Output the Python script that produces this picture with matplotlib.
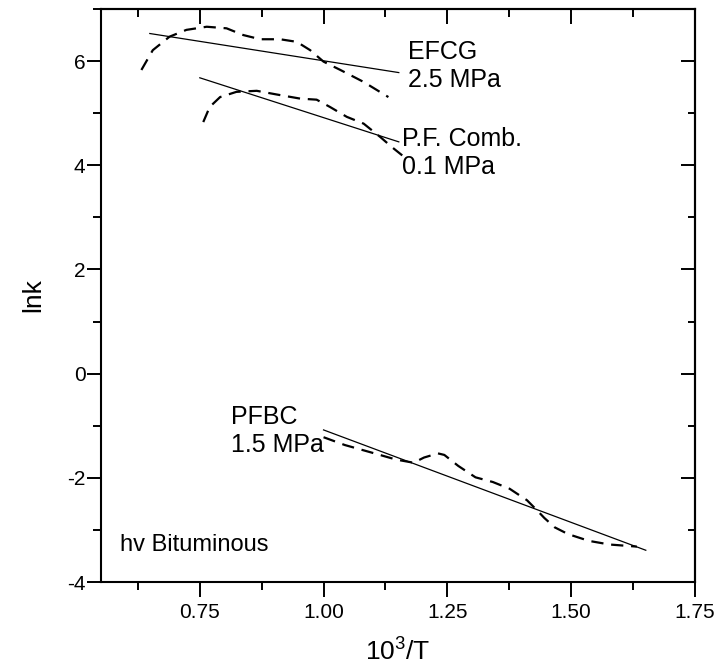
import matplotlib
matplotlib.use("Agg")
import matplotlib.pyplot as plt
from matplotlib.ticker import MultipleLocator

plt.rcParams["font.family"] = ["Liberation Sans", "DejaVu Sans"]
plt.rcParams["mathtext.default"] = "regular"
plt.rcParams["axes.unicode_minus"] = False

# ── data ────────────────────────────────────────────────────────────────────
efcg_x = [0.632, 0.655, 0.689, 0.723, 0.764, 0.804, 0.838, 0.872, 0.912,
          0.946, 0.973, 1.000, 1.034, 1.081, 1.131]
efcg_y = [5.83, 6.21, 6.47, 6.60, 6.66, 6.63, 6.50, 6.42, 6.42,
          6.37, 6.21, 5.99, 5.83, 5.60, 5.31]
efcg_fit_x = [0.649, 1.152]
efcg_fit_y = [6.53, 5.78]

pf_x = [0.757, 0.770, 0.791, 0.824, 0.865, 0.905, 0.953, 0.986, 1.013,
        1.047, 1.081, 1.115, 1.138, 1.159]
pf_y = [4.83, 5.12, 5.31, 5.41, 5.43, 5.36, 5.28, 5.26, 5.12,
        4.93, 4.80, 4.54, 4.35, 4.19]
pf_fit_x = [0.750, 1.152]
pf_fit_y = [5.68, 4.45]

pfbc_x = [1.000, 1.043, 1.099, 1.147, 1.182, 1.203, 1.231, 1.244, 1.272,
          1.307, 1.342, 1.376, 1.411, 1.432, 1.446, 1.467, 1.494, 1.536,
          1.578, 1.633]
pfbc_y = [-1.22, -1.37, -1.52, -1.65, -1.71, -1.61, -1.53, -1.56, -1.77,
          -1.99, -2.08, -2.21, -2.43, -2.63, -2.77, -2.95, -3.08, -3.21,
          -3.28, -3.32]
pfbc_fit_x = [1.000, 1.651]
pfbc_fit_y = [-1.08, -3.39]

labels = ["EFCG\n2.5 MPa", "P.F. Comb.\n0.1 MPa", "PFBC\n1.5 MPa"]
label_x = [1.171, 1.159, 0.814]
label_y = [5.90, 4.23, -1.10]

fig = plt.figure(figsize=(7.2, 6.69), dpi=100)
ax = fig.add_axes([0.140, 0.130, 0.825, 0.8565])

dash = dict(color="black", linewidth=1.6, linestyle=(0, (5.5, 3.5)))
solid = dict(color="black", linewidth=0.9)

ax.plot(efcg_x, efcg_y, **dash)
ax.plot(efcg_fit_x, efcg_fit_y, **solid)
ax.plot(pf_x, pf_y, **dash)
ax.plot(pf_fit_x, pf_fit_y, **solid)
ax.plot(pfbc_x, pfbc_y, **dash)
ax.plot(pfbc_fit_x, pfbc_fit_y, **solid)

for txt, tx, ty in zip(labels, label_x, label_y):
    ax.text(tx, ty, txt, fontsize=18, va="center", ha="left", linespacing=1.2)
ax.text(0.589, -3.28, "hv Bituminous", fontsize=17, va="center", ha="left")

ax.set_xlim(0.55, 1.75)
ax.set_ylim(-4, 7.0)
ax.set_xticks([0.75, 1.00, 1.25, 1.50, 1.75])
ax.set_xticklabels(["0.75", "1.00", "1.25", "1.50", "1.75"])
ax.xaxis.set_minor_locator(MultipleLocator(0.125))
ax.set_yticks([-4, -2, 0, 2, 4, 6])
ax.yaxis.set_minor_locator(MultipleLocator(1))

# bottom / left ticks point out, top / right ticks point in
ax.tick_params(axis="x", which="major", direction="out", length=11,
               width=1.4, labelsize=15, pad=4)
ax.tick_params(axis="y", which="major", direction="out", length=10,
               width=1.4, labelsize=15, pad=1)
ax.tick_params(axis="both", which="minor", direction="out", length=6, width=1.4)

top = ax.secondary_xaxis("top")
top.set_xticks([0.75, 1.0, 1.25, 1.5])
top.xaxis.set_minor_locator(MultipleLocator(0.125))
top.tick_params(which="major", direction="in", length=11, width=1.4,
                labeltop=False)
top.tick_params(which="minor", direction="in", length=6, width=1.4)
right = ax.secondary_yaxis("right")
right.set_yticks([-4, -2, 0, 2, 4, 6])
right.yaxis.set_minor_locator(MultipleLocator(1))
right.tick_params(which="major", direction="in", length=10, width=1.4,
                  labelright=False)
right.tick_params(which="minor", direction="in", length=5, width=1.4)

for sp in list(ax.spines.values()) + [top.spines["top"], right.spines["right"]]:
    sp.set_linewidth(1.5)

ax.set_xlabel("10$^3$/T", fontsize=19, labelpad=12)
ax.set_ylabel("lnk", fontsize=19, labelpad=16)

fig.savefig("out.png", dpi=100)
